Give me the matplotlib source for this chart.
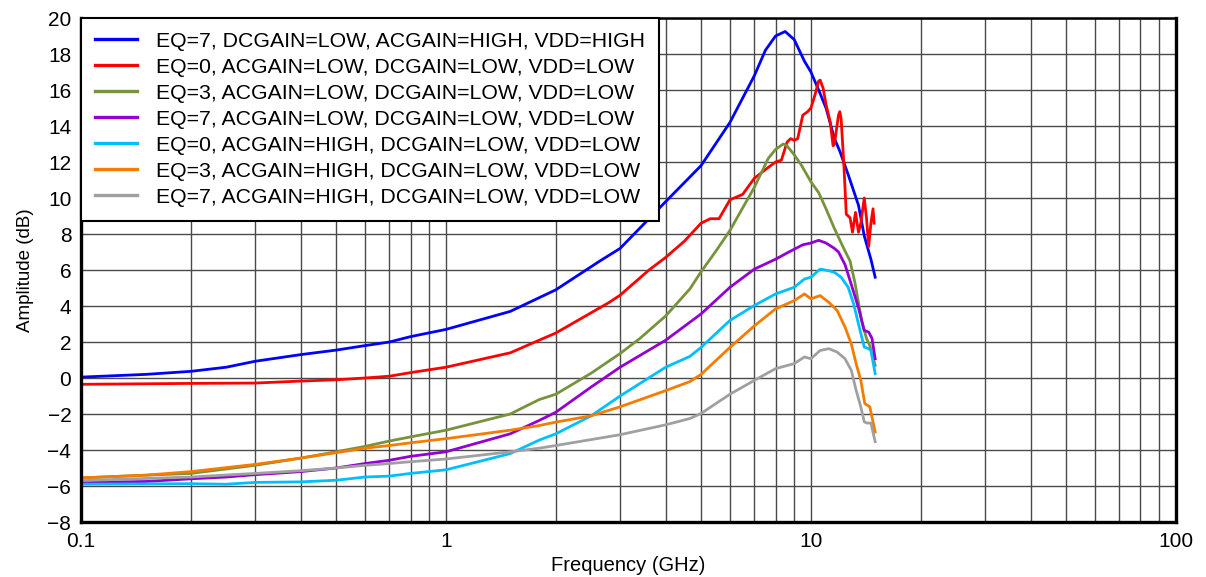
import matplotlib
matplotlib.use('Agg')
import matplotlib.pyplot as plt
from matplotlib.ticker import LogLocator, FixedLocator, NullFormatter

plt.rcParams['font.family'] = ['Liberation Sans', 'DejaVu Sans']

# curve values (frequency in GHz, amplitude in dB)
f_blue = [0.1, 0.15, 0.2, 0.25, 0.3, 0.4, 0.5, 0.6, 0.7, 0.8, 1.0, 1.5, 2.0, 2.64, 3.0, 4.0, 5.0, 6.0,
          7.0, 7.5, 8.0, 8.5, 9.0, 9.6, 10.0, 10.5, 11.0, 11.6, 12.0, 12.65, 13.5, 14.0, 14.6, 15.0]
a_blue = [0.05, 0.2, 0.37, 0.6, 0.93, 1.3, 1.55, 1.8, 2.0, 2.3, 2.7, 3.7, 4.9, 6.5, 7.2, 9.8, 11.8, 14.2,
          16.8, 18.2, 19.0, 19.25, 18.8, 17.6, 17.0, 16.0, 15.0, 13.3, 12.6, 11.3, 9.6, 7.9, 6.6, 5.6]

f_red = [0.1, 0.2, 0.3, 0.4, 0.5, 0.6, 0.7, 0.8, 1.0, 1.5, 1.8, 2.0, 2.8, 3.0, 3.6, 4.0, 4.5, 5.0, 5.3,
         5.6, 6.0, 6.5, 7.0, 7.64, 8.0, 8.3, 8.6, 8.8, 9.0, 9.2, 9.5, 9.8, 10.0, 10.25, 10.5, 10.6, 10.8,
         11.0, 11.3, 11.5, 11.6, 11.9, 12.0, 12.1, 12.3, 12.5, 12.8, 13.0, 13.25, 13.5, 13.7, 14.0, 14.2,
         14.4, 14.6, 14.8, 14.9]
a_red = [-0.35, -0.3, -0.28, -0.17, -0.1, 0.0, 0.1, 0.3, 0.6, 1.4, 2.1, 2.5, 4.2, 4.6, 6.0, 6.7, 7.6, 8.6, 8.85,
         8.85, 9.9, 10.2, 11.1, 11.7, 12.0, 12.1, 13.1, 13.3, 13.2, 13.3, 14.6, 14.8, 15.0, 15.7, 16.5, 16.55, 16.1,
         15.2, 14.2, 12.9, 13.0, 14.6, 14.8, 14.4, 12.0, 9.1, 8.9, 8.1, 9.2, 8.1, 8.6, 10.0, 8.9,
         7.3, 8.6, 9.4, 8.6]

f_green = [0.1, 0.15, 0.2, 0.3, 0.4, 0.5, 0.6, 0.7, 0.8, 1.0, 1.5, 1.8, 2.0, 2.5, 3.0, 3.4, 4.0, 4.66, 5.0,
           5.5, 6.0, 7.0, 7.64, 8.0, 8.4, 8.6, 9.0, 9.4, 10.0, 10.5, 11.0, 11.6, 12.3, 12.8, 13.2, 13.8,
           14.2, 14.5, 15.0]
a_green = [-5.55, -5.4, -5.3, -4.85, -4.45, -4.1, -3.8, -3.5, -3.27, -2.9, -2.0, -1.2, -0.9, 0.27, 1.36, 2.2,
           3.45, 4.95, 5.9, 7.07, 8.2, 10.6, 12.2, 12.7, 13.0, 12.9, 12.4, 11.85, 10.9, 10.3, 9.4, 8.3, 7.2,
           6.5, 5.3, 3.1, 2.2, 1.8, 0.7]

f_purple = [0.1, 0.15, 0.2, 0.25, 0.3, 0.4, 0.5, 0.6, 0.7, 0.8, 1.0, 1.5, 1.8, 2.0, 2.5, 3.0, 4.0, 4.66,
            5.0, 6.0, 7.0, 8.0, 8.7, 9.5, 10.0, 10.5, 11.0, 11.6, 11.9, 12.4, 12.9, 13.5, 14.0, 14.4, 14.7, 15.0]
a_purple = [-5.8, -5.75, -5.6, -5.5, -5.37, -5.2, -5.0, -4.75, -4.57, -4.35, -4.1, -3.1, -2.36, -1.9, -0.5,
            0.6, 2.1, 3.1, 3.56, 5.04, 6.05, 6.6, 7.0, 7.4, 7.5, 7.65, 7.5, 7.2, 7.0, 6.3, 5.2, 3.9, 2.64,
            2.55, 2.2, 1.07]

f_cyan = [0.1, 0.2, 0.25, 0.3, 0.4, 0.5, 0.6, 0.7, 0.8, 1.0, 1.5, 1.8, 2.0, 2.5, 3.0, 4.0, 4.66, 5.0, 6.0,
          7.0, 8.0, 9.0, 9.6, 10.0, 10.6, 11.2, 11.6, 12.1, 12.65, 13.1, 13.5, 14.0, 14.4, 14.6, 15.0]
a_cyan = [-5.9, -5.87, -5.9, -5.8, -5.77, -5.68, -5.5, -5.45, -5.3, -5.1, -4.2, -3.45, -3.1, -2.1, -1.0, 0.6,
          1.2, 1.7, 3.2, 4.03, 4.67, 5.04, 5.5, 5.6, 6.05, 5.96, 5.87, 5.6, 5.04, 4.1, 3.0, 1.72, 1.63, 1.53, 0.24]

f_orange = [0.1, 0.15, 0.2, 0.3, 0.4, 0.5, 0.6, 0.7, 0.8, 1.0, 1.5, 1.8, 2.0, 2.5, 3.0, 4.0, 4.66, 5.0,
            6.0, 7.0, 8.0, 9.0, 9.6, 10.0, 10.6, 11.2, 11.8, 12.4, 12.9, 13.3, 13.7, 14.05, 14.5, 15.0]
a_orange = [-5.55, -5.4, -5.2, -4.8, -4.45, -4.15, -3.9, -3.75, -3.6, -3.37, -2.9, -2.64, -2.45, -2.1, -1.6,
            -0.7, -0.2, 0.2, 1.7, 2.9, 3.84, 4.3, 4.67, 4.4, 4.58, 4.2, 3.75, 2.83, 1.9, 0.8, -0.13, -1.42,
            -1.6, -3.0]

f_gray = [0.1, 0.2, 0.3, 0.4, 0.5, 0.6, 0.7, 0.8, 1.0, 1.5, 1.8, 2.0, 3.0, 4.0, 4.66, 5.0, 6.0, 7.0, 8.0,
          9.0, 9.6, 10.0, 10.6, 11.2, 11.8, 12.4, 12.9, 13.3, 13.7, 14.0, 14.2, 14.6, 15.0]
a_gray = [-5.7, -5.5, -5.3, -5.15, -5.0, -4.85, -4.75, -4.65, -4.5, -4.1, -3.9, -3.75, -3.15, -2.6, -2.25,
          -1.97, -0.9, -0.13, 0.52, 0.8, 1.17, 1.07, 1.53, 1.63, 1.44, 1.07, 0.43, -0.68, -1.6, -2.43, -2.5,
          -2.5, -3.54]

labels = ['EQ=7, DCGAIN=LOW, ACGAIN=HIGH, VDD=HIGH',
          'EQ=0, ACGAIN=LOW, DCGAIN=LOW, VDD=LOW',
          'EQ=3, ACGAIN=LOW, DCGAIN=LOW, VDD=LOW',
          'EQ=7, ACGAIN=LOW, DCGAIN=LOW, VDD=LOW',
          'EQ=0, ACGAIN=HIGH, DCGAIN=LOW, VDD=LOW',
          'EQ=3, ACGAIN=HIGH, DCGAIN=LOW, VDD=LOW',
          'EQ=7, ACGAIN=HIGH, DCGAIN=LOW, VDD=LOW']
colors = ['#0000ff', '#ff0000', '#77933c', '#9400d3', '#00bfff', '#f47c00', '#a0a0a0']

series = [(f_blue, a_blue), (f_red, a_red), (f_green, a_green), (f_purple, a_purple),
          (f_cyan, a_cyan), (f_orange, a_orange), (f_gray, a_gray)]

fig = plt.figure(figsize=(12.06, 5.77), dpi=100)
ax = fig.add_axes([0.0672, 0.0953, 0.9078, 0.8735])

for (f, a), lab, col in zip(series, labels, colors):
    ax.plot(f, a, color=col, lw=2.0, label=lab)

ax.set_xscale('log')
ax.set_xlim(0.1, 100)
ax.set_ylim(-8, 20)
ax.yaxis.set_major_locator(FixedLocator(list(range(-8, 21, 2))))
ax.xaxis.set_major_locator(FixedLocator([0.1, 1, 10, 100]))
ax.set_xticklabels(['0.1', '1', '10', '100'])
ax.xaxis.set_minor_locator(LogLocator(base=10, subs=[2, 3, 4, 5, 6, 7, 8, 9], numticks=20))
ax.xaxis.set_minor_formatter(NullFormatter())
ax.set_yticklabels(['\u22128', '\u22126', '\u22124', '\u22122', '0', '2', '4', '6', '8', '10', '12',
                    '14', '16', '18', '20'])

ax.grid(True, which='both', axis='x', color='#4a4a4a', lw=1.0)
ax.grid(True, which='major', axis='y', color='#4a4a4a', lw=1.0)
ax.tick_params(which='both', length=0, labelsize=15, pad=7)

for side in ['left', 'bottom', 'right']:
    ax.spines[side].set_linewidth(2.4)
ax.spines['top'].set_linewidth(1.8)

ax.set_xlabel('Frequency (GHz)', fontsize=14.5, labelpad=4)
ax.set_ylabel('Amplitude (dB)', fontsize=13.5, labelpad=10)

leg = ax.legend(loc='upper left', borderaxespad=0, fontsize=15.3, frameon=True, fancybox=False,
                framealpha=1, edgecolor='black', labelspacing=0.33, handlelength=2.0,
                handletextpad=0.9, borderpad=0.65)
leg.get_frame().set_linewidth(1.5)
for line in leg.get_lines():
    line.set_linewidth(2.4)

fig.savefig('out.png', dpi=100)
